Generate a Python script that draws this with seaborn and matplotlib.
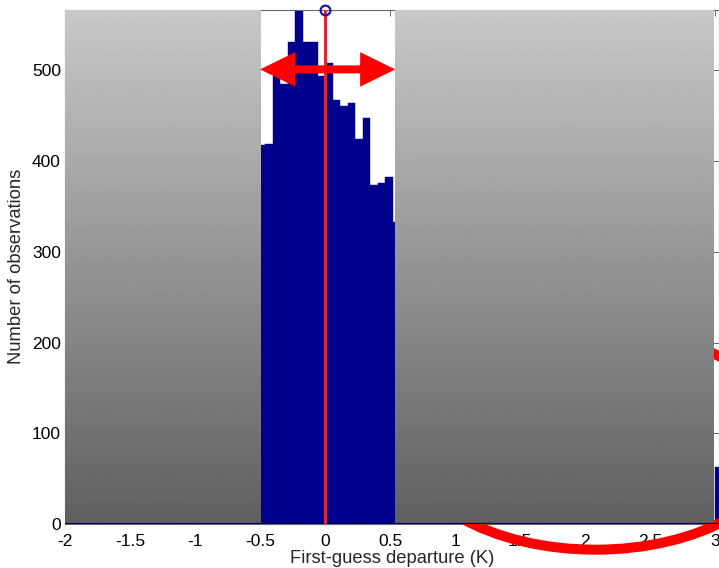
import numpy as np
import pandas as pd
import matplotlib
matplotlib.use("Agg")
import matplotlib.pyplot as plt
import matplotlib.patches as mpatches
import seaborn as sns

# Histogram of first-guess departures (K)
bin_start = -0.518
bin_width = 0.0577
n_bins = 63
counts_core = [418, 419, 494, 485, 531, 590, 531, 531, 494, 508,
               467, 461, 464, 424, 447, 374, 376, 382, 333]
counts_tail = [63]          # last bin, just past +3 K
tail_index = [61]

x_ticks = [-2, -1.5, -1, -0.5, 0, 0.5, 1, 1.5, 2, 2.5, 3]
x_ticklabels = ["-2", "-1.5", "-1", "-0.5", "0", "0.5", "1", "1.5", "2", "2.5", "3"]
y_ticks = [0, 100, 200, 300, 400, 500]
y_ticklabels = ["0", "100", "200", "300", "400", "500"]

# bin centres for every populated bin
idx = list(range(len(counts_core))) + tail_index
centres = [bin_start + (i + 0.5) * bin_width for i in idx]
df = pd.DataFrame({"departure": centres, "n": counts_core + counts_tail})

sns.set_style("white")
plt.rcParams["font.family"] = ["Liberation Sans", "DejaVu Sans"]

fig = plt.figure(figsize=(7.19, 5.68), dpi=100)
ax = fig.add_axes([65 / 719, 1 - 524 / 568, 654 / 719, (524 - 9.5) / 568])

navy = "#00008f"
sns.histplot(data=df, x="departure", weights="n", binwidth=bin_width,
             binrange=(bin_start, bin_start + n_bins * bin_width), ax=ax,
             color=navy, alpha=1, edgecolor="#000078", linewidth=0.3,
             zorder=1)

XMIN, XMAX, YMAX = -2.0, 3.03, 567

# grey shaded panels outside the central +-0.5 K window
grad = np.linspace(0.785, 0.375, 256).reshape(-1, 1)
for x0, x1 in [(-2.0, -0.5), (0.538, 2.985)]:
    ax.imshow(grad, cmap="gray", vmin=0, vmax=1, aspect="auto",
              extent=[x0, x1, 0, YMAX], zorder=1.7, interpolation="bilinear")

# red ellipse partially hidden by the grey panel
ell = mpatches.Ellipse((2.08, 92.7), width=2.94, height=242, fill=False,
                       edgecolor="#ff0000", linewidth=7.2, clip_on=False,
                       zorder=1.6)
ax.add_patch(ell)

# baseline
ax.axhline(0, color="#000066", lw=1.6, zorder=1.8)

# zero-departure line and marker
ax.plot([0, 0], [0, YMAX], color="#d42a3a", lw=2.2, zorder=2)
ax.plot([0], [YMAX], marker="o", ms=7, mfc="none", mec="#1a1aa0", mew=1.6,
        clip_on=False, zorder=3)

# double-headed red arrow spanning the window
arrow_y = 501
mid = 0.02
for tip in (-0.5, 0.54):
    ax.arrow(mid, arrow_y, tip - mid, 0, width=8.8, head_width=38,
             head_length=0.27, length_includes_head=True, color="#ff0000",
             linewidth=0, zorder=2.6)

ax.set_xlim(XMIN, XMAX)
ax.set_ylim(0, YMAX)
ax.set_xticks(x_ticks)
ax.set_xticklabels(x_ticklabels)
ax.set_yticks(y_ticks)
ax.set_yticklabels(y_ticklabels)

for s in ax.spines.values():
    s.set_color("#666666")
    s.set_linewidth(0.8)
    s.set_zorder(1.2)

ax.tick_params(axis="both", direction="in", length=4, width=0.7,
               colors="#666666", labelcolor="black", labelsize=12.5,
               top=True, right=True)
ax.tick_params(axis="x", pad=7)
ax.tick_params(axis="y", pad=3)

ax.set_xlabel("First-guess departure (K)", fontsize=13.2, labelpad=1)
ax.set_ylabel("Number of observations", fontsize=13.2, labelpad=5)

fig.savefig("out.png", dpi=100)
